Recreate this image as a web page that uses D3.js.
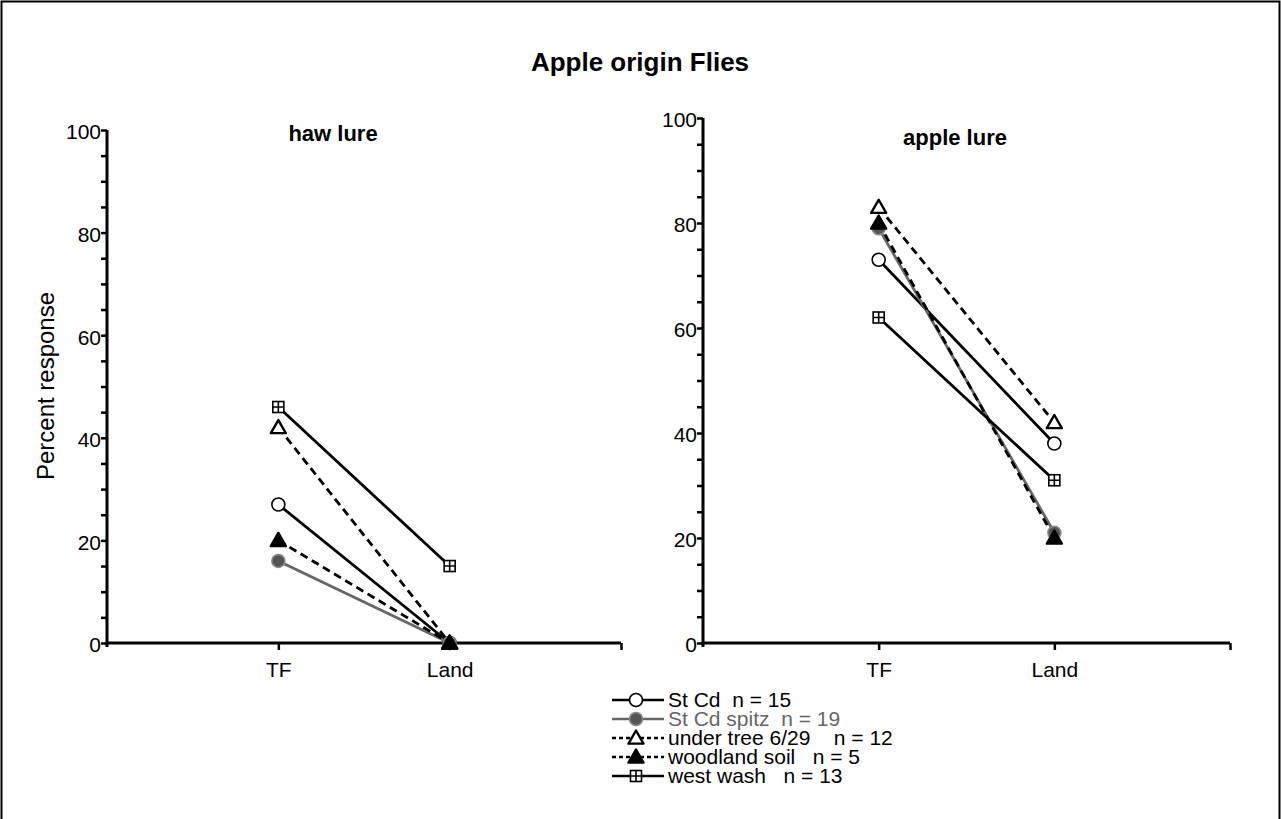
<!DOCTYPE html>
<html>
<head>
<meta charset="utf-8">
<script src="https://cdn.jsdelivr.net/npm/d3@7"></script>
<style>
  body { margin: 0; background: #fff; }
  svg { display: block; font-family: Arial, "Liberation Sans", sans-serif; }
  text { white-space: pre; }
</style>
</head>
<body>
<svg id="chart"></svg>
<script>
const width = 1281;
const height = 819;

// data
const categories = ["TF", "Land"];
const seriesNames = ["St Cd  n = 15", "St Cd spitz  n = 19", "under tree 6/29    n = 12", "woodland soil   n = 5", "west wash   n = 13"];
const hawValues = [[27, 0], [16, 0], [42, 0], [20, 0], [46, 15]];
const appleValues = [[73, 38], [79, 21], [83, 42], [80, 20], [62, 31]];
const yTicks = d3.range(0, 101, 5);

const styles = [
  { color: "#000", dash: null, marker: "circleOpen" },
  { color: "#666", dash: null, marker: "circleGray" },
  { color: "#000", dash: "8,5", marker: "triOpen" },
  { color: "#000", dash: "8,5", marker: "triFilled" },
  { color: "#000", dash: null, marker: "squareCross" }
];

const svg = d3.select("#chart")
    .attr("width", width)
    .attr("height", height);

svg.append("rect")
    .attr("x", 1.5).attr("y", 1.5)
    .attr("width", width - 3).attr("height", height + 20)
    .attr("fill", "none").attr("stroke", "#000").attr("stroke-width", 2);

svg.append("text")
    .attr("x", 640).attr("y", 71)
    .attr("text-anchor", "middle")
    .attr("font-size", 26).attr("font-weight", "bold")
    .text("Apple origin Flies");

svg.append("text")
    .attr("transform", "translate(54,386) rotate(-90)")
    .attr("text-anchor", "middle")
    .attr("font-size", 24)
    .text("Percent response");

function drawMarker(g, type, x, y) {
  if (type === "circleOpen") {
    g.append("circle").attr("cx", x).attr("cy", y).attr("r", 6.5)
      .attr("fill", "#fff").attr("stroke", "#000").attr("stroke-width", 1.6);
  } else if (type === "circleGray") {
    g.append("circle").attr("cx", x).attr("cy", y).attr("r", 6.5)
      .attr("fill", "#555").attr("stroke", "#888").attr("stroke-width", 1.5);
  } else if (type === "triOpen" || type === "triFilled") {
    const s = 7.5;
    g.append("path")
      .attr("d", `M${x},${y - s}L${x + s},${y + s * 0.75}L${x - s},${y + s * 0.75}Z`)
      .attr("fill", type === "triOpen" ? "#fff" : "#000")
      .attr("stroke", "#000").attr("stroke-width", 2.4)
      .attr("stroke-linejoin", "round");
  } else {
    const s = 5.5;
    g.append("rect").attr("x", x - s).attr("y", y - s)
      .attr("width", 2 * s).attr("height", 2 * s)
      .attr("fill", "#fff").attr("stroke", "#000").attr("stroke-width", 1.6);
    g.append("path")
      .attr("d", `M${x - s},${y}H${x + s}M${x},${y - s}V${y + s}`)
      .attr("stroke", "#000").attr("stroke-width", 1.6);
  }
}

function drawPanel(opts) {
  const x = d3.scaleLinear().domain([0, 3]).range([opts.left, opts.right]);
  const y = d3.scaleLinear().domain([0, 100]).range([opts.bottom, opts.top]);
  const g = svg.append("g");

  const yAxis = g.append("g")
      .attr("transform", `translate(${opts.left},0)`)
      .call(d3.axisLeft(y).tickValues(yTicks).tickSize(6).tickPadding(0)
        .tickFormat(d => d % 20 === 0 ? d : ""));
  yAxis.selectAll("text").attr("font-size", 21).attr("fill", "#000")
      .attr("font-family", "Arial, 'Liberation Sans', sans-serif")
      .attr("dy", "0.42em");
  yAxis.selectAll(".tick line").attr("stroke", "#000").attr("stroke-width", 2.5);
  yAxis.select(".domain").attr("stroke-width", 3).attr("d", `M0,${opts.top}V${opts.bottom + 4}`);

  const xAxis = g.append("g")
      .attr("transform", `translate(0,${opts.bottom})`)
      .call(d3.axisBottom(x).tickValues([1, 2, 3]).tickSize(7).tickPadding(12)
        .tickFormat(d => categories[d - 1] || ""));
  xAxis.selectAll("text").attr("font-size", 21).attr("fill", "#000")
      .attr("font-family", "Arial, 'Liberation Sans', sans-serif");
  xAxis.selectAll(".tick line").attr("stroke", "#000").attr("stroke-width", 2.5);
  xAxis.select(".domain").attr("stroke-width", 3).attr("d", `M${opts.left},0H${opts.right}`);

  g.append("text")
      .attr("x", opts.titleX).attr("y", opts.titleY)
      .attr("text-anchor", "middle")
      .attr("font-size", opts.titleSize).attr("font-weight", "bold")
      .text(opts.title);

  const line = d3.line().x((d, i) => x(i + 1)).y(d => y(d));
  opts.values.forEach((vals, k) => {
    g.append("path")
      .attr("d", line(vals))
      .attr("fill", "none")
      .attr("stroke", styles[k].color)
      .attr("stroke-width", 2.8)
      .attr("stroke-dasharray", styles[k].dash);
  });
  opts.values.forEach((vals, k) => {
    vals.forEach((v, i) => drawMarker(g, styles[k].marker, x(i + 1), y(v)));
  });
}

drawPanel({ left: 107, right: 621, top: 130, bottom: 643, values: hawValues,
  title: "haw lure", titleX: 333, titleY: 141, titleSize: 22 });
drawPanel({ left: 703, right: 1230, top: 118, bottom: 643, values: appleValues,
  title: "apple lure", titleX: 955, titleY: 145, titleSize: 22 });

// legend
const legend = svg.append("g");
const rowY = d3.scaleLinear().domain([0, 4]).range([700, 776]);
seriesNames.forEach((name, k) => {
  const yy = rowY(k);
  legend.append("line")
    .attr("x1", 612).attr("x2", 664).attr("y1", yy).attr("y2", yy)
    .attr("stroke", styles[k].color).attr("stroke-width", 2.6)
    .attr("stroke-dasharray", styles[k].dash ? "4,3" : null);
  drawMarker(legend, styles[k].marker, 636, yy);
  legend.append("text")
    .attr("x", 668).attr("y", yy + 7)
    .attr("font-size", 21)
    .attr("fill", k === 1 ? "#666" : "#000")
    .text(name);
});
</script>
</body>
</html>
